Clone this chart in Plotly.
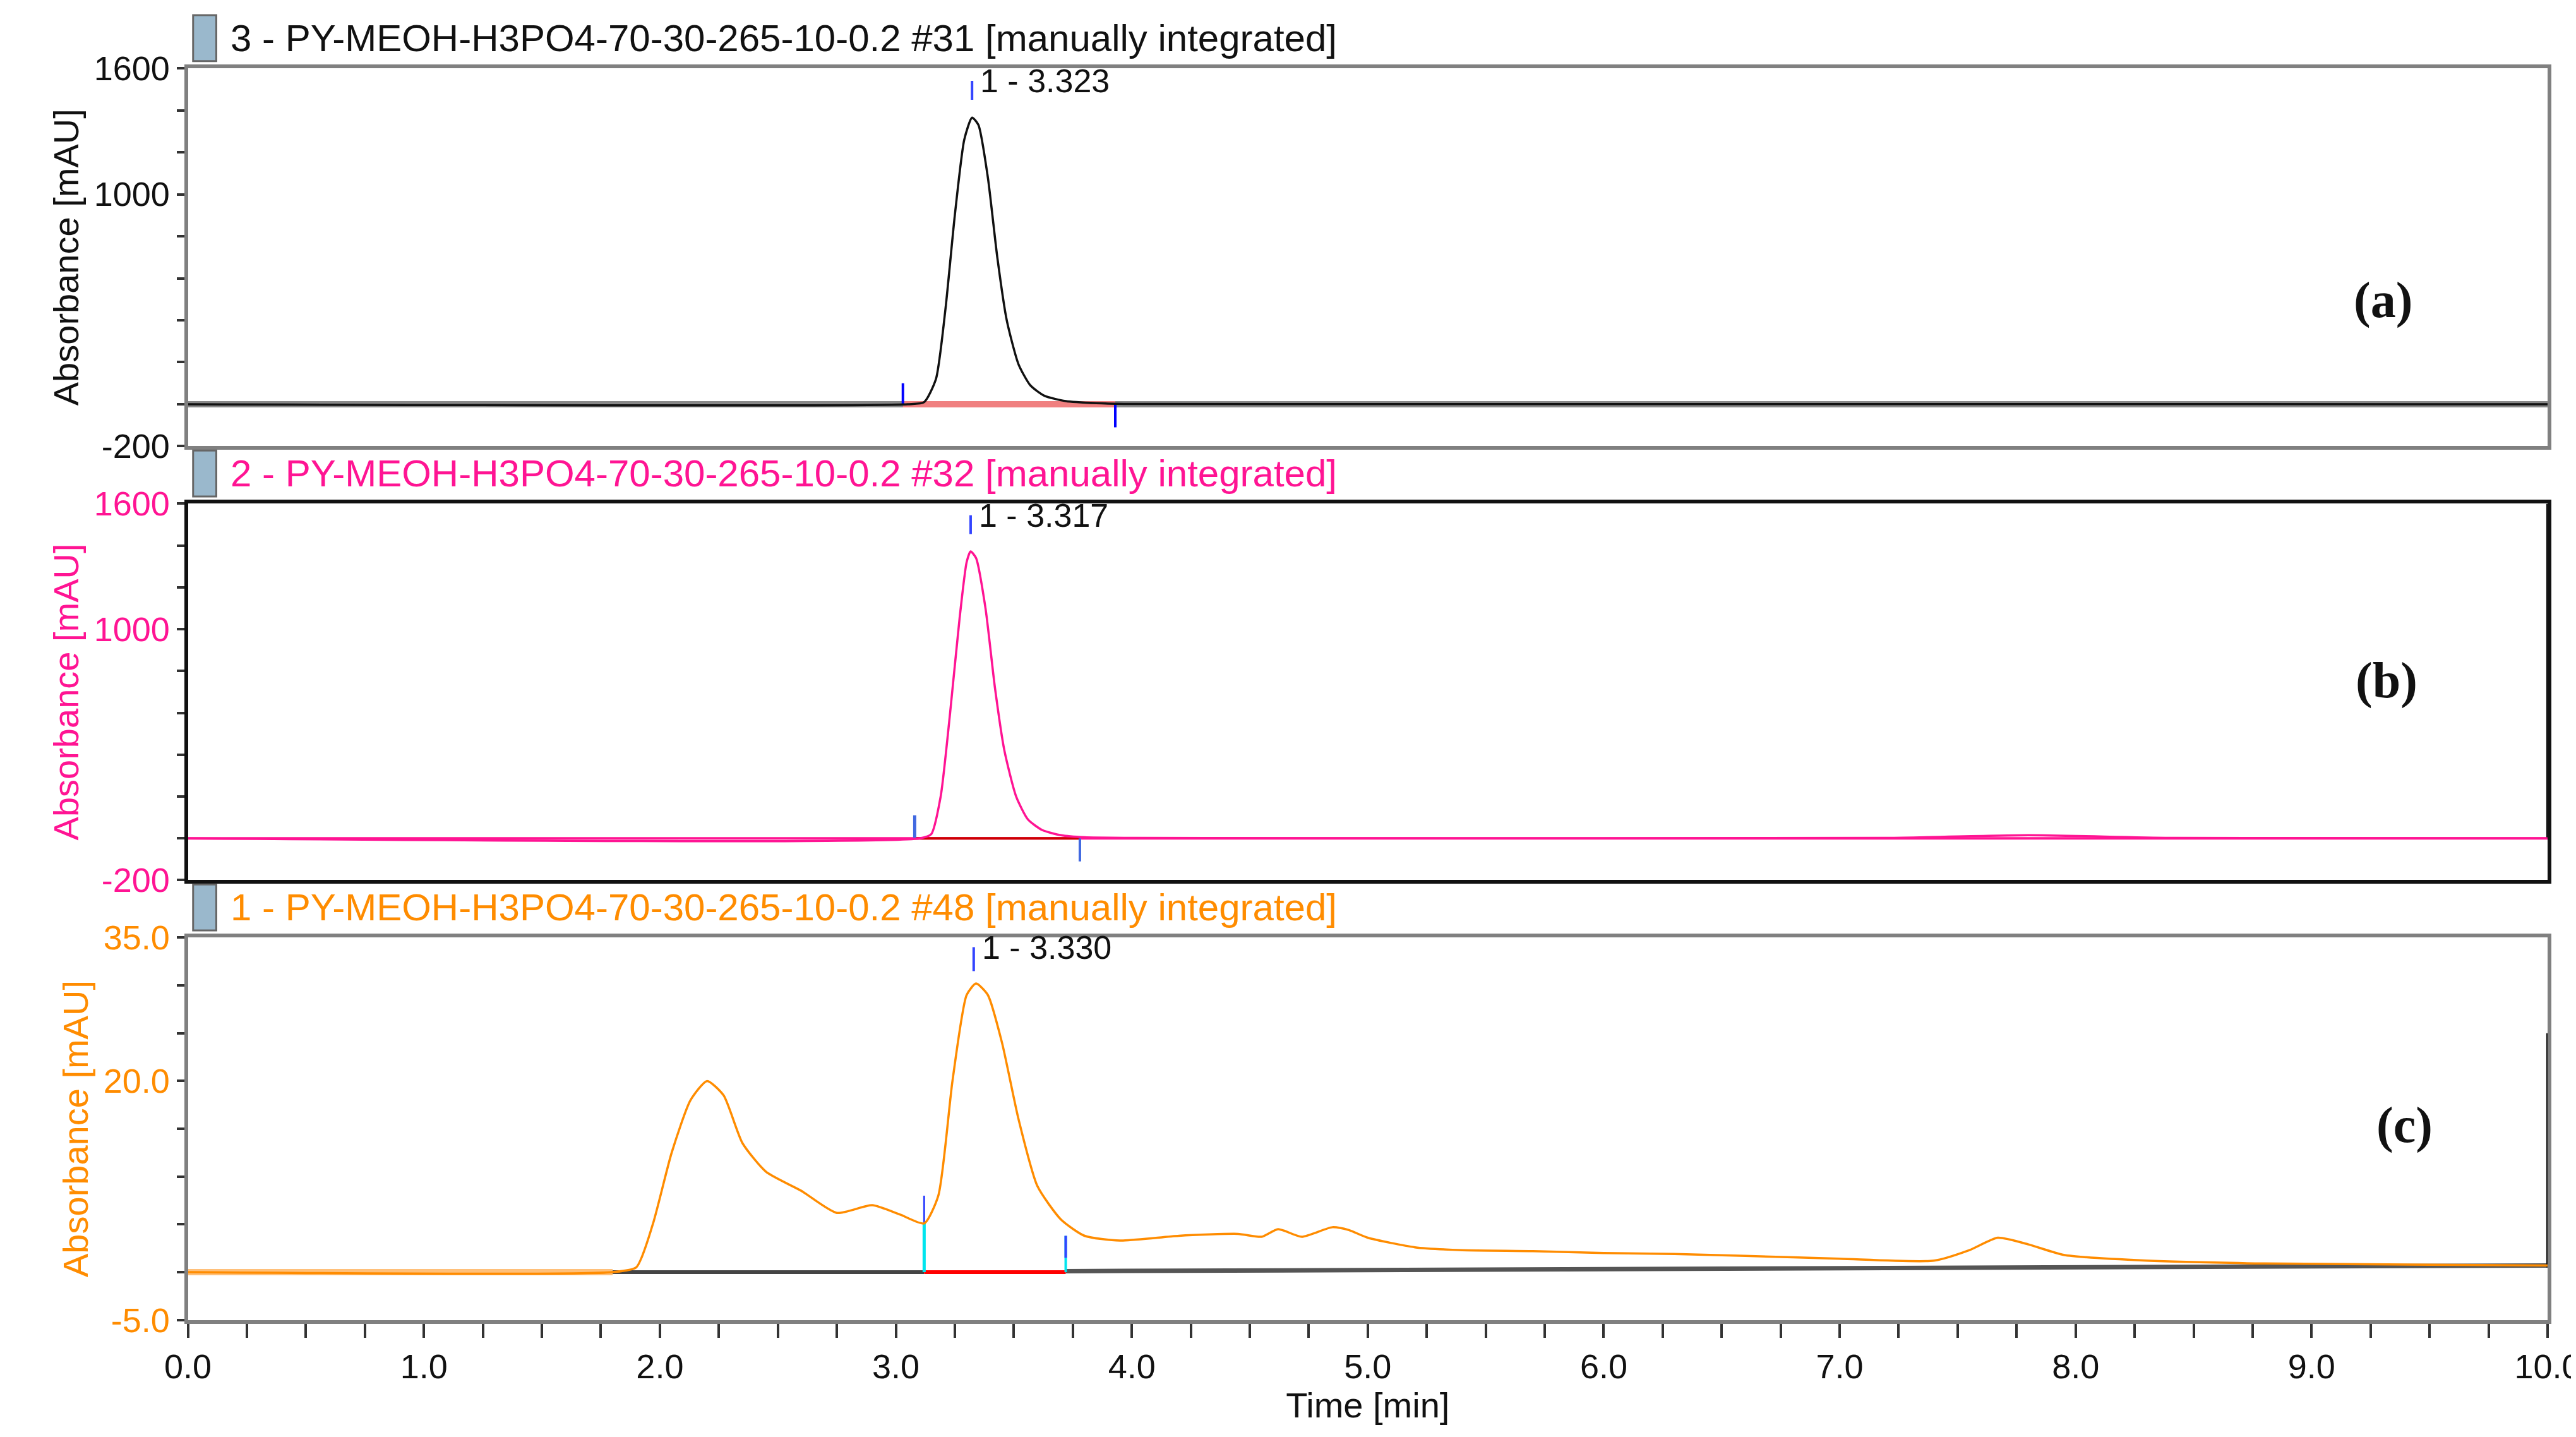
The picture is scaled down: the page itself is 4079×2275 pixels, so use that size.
import plotly.graph_objects as go

# ---- data ----
ta = [0, 3.05, 3.12, 3.17, 3.21, 3.25, 3.29, 3.323, 3.35, 3.39, 3.43, 3.47, 3.52, 3.57, 3.63, 3.72, 3.85, 4.0, 10]
ya = [0, 0, 10, 120, 450, 900, 1260, 1365, 1330, 1080, 700, 400, 190, 90, 40, 15, 5, 1, 0]
tb = [0, 3.1, 3.15, 3.19, 3.23, 3.27, 3.3, 3.317, 3.34, 3.38, 3.42, 3.46, 3.51, 3.56, 3.62, 3.7, 3.8, 4.0, 7.2, 7.8, 8.4, 10]
yb = [0, 0, 20, 200, 600, 1050, 1320, 1372, 1340, 1100, 720, 420, 200, 90, 40, 15, 5, 2, 2, 15, 2, 0]
tc = [0, 1.8, 1.9, 1.97, 2.05, 2.13, 2.2, 2.27, 2.35, 2.45, 2.6, 2.75, 2.9, 3.02, 3.12, 3.18, 3.24, 3.3, 3.34, 3.39, 3.45, 3.52, 3.6, 3.7, 3.8, 3.95, 4.2, 4.45, 4.55, 4.62, 4.72, 4.85, 4.92, 5.0, 5.2, 5.4, 5.7, 6.0, 6.3, 6.6, 7.0, 7.4, 7.55, 7.67, 7.8, 7.95, 8.3, 8.8, 10]
yc = [0, 0, 0.5, 5, 12.5, 18, 20, 18.5, 13.5, 10.5, 8.5, 6.2, 7.0, 6.0, 5.1, 8, 20, 29, 30.2, 29, 24, 16, 9, 5.5, 3.8, 3.3, 3.8, 4.0, 3.7, 4.5, 3.7, 4.7, 4.4, 3.6, 2.6, 2.3, 2.2, 2.0, 1.9, 1.7, 1.4, 1.2, 2.3, 3.6, 2.9, 1.8, 1.2, 0.9, 0.7]

titles = ["3 - PY-MEOH-H3PO4-70-30-265-10-0.2 #31 [manually integrated]",
          "2 - PY-MEOH-H3PO4-70-30-265-10-0.2 #32 [manually integrated]",
          "1 - PY-MEOH-H3PO4-70-30-265-10-0.2 #48 [manually integrated]"]
peak_labels = ["1 - 3.323", "1 - 3.317", "1 - 3.330"]
peak_t = [3.323, 3.317, 3.330]
panel_tags = ["(a)", "(b)", "(c)"]
colors = ["#111111", "#ff1493", "#ff8c00"]
xticklabels = ["0.0", "1.0", "2.0", "3.0", "4.0", "5.0", "6.0", "7.0", "8.0", "9.0", "10.0"]

W, H = 4079, 2275
dom = [(0.693, 0.956), (0.391, 0.653), (0.085, 0.351)]
XD = (0.071, 0.987)
FONT = "Liberation Sans Narrow, Liberation Sans, Arial"

fig = go.Figure()
specs = [(ta, ya, "x", "y"), (tb, yb, "x2", "y2"), (tc, yc, "x3", "y3")]
def seg(x, y, xa, ya_, color, width):
    fig.add_trace(go.Scatter(x=x, y=y, xaxis=xa, yaxis=ya_, mode="lines",
                             line=dict(color=color, width=width), hoverinfo="skip", showlegend=False))

seg([0, 10], [0, 0], "x", "y", "#888888", 10)
seg([3.03, 3.93], [0, 0], "x", "y", "#f08080", 10)
seg([3.03, 3.03], [0, 100], "x", "y", "#0000ff", 4)
seg([3.93, 3.93], [0, -110], "x", "y", "#0000ff", 4)
seg([0, 10], [0, 0], "x2", "y2", "#ff1493", 4)
seg([3.08, 3.78], [0, 0], "x2", "y2", "#cc0000", 4)
seg([3.08, 3.08], [0, 110], "x2", "y2", "#4169e1", 5)
seg([3.78, 3.78], [0, -110], "x2", "y2", "#4169e1", 4)
seg([0, 1.8], [0, 0], "x3", "y3", "#ffc07a", 10)
seg([1.8, 3.12], [0, 0], "x3", "y3", "#444444", 6)
seg([3.12, 3.72], [0, 0], "x3", "y3", "#ff0000", 6)
seg([3.72, 10], [0.1, 0.7], "x3", "y3", "#555555", 7)
seg([3.12, 3.12], [0, 5.1], "x3", "y3", "#00e5ee", 5)
seg([3.12, 3.12], [5.1, 8], "x3", "y3", "#3344ff", 3)
seg([3.72, 3.72], [0, 3.8], "x3", "y3", "#00e5ee", 4)
seg([3.72, 3.72], [1.5, 3.8], "x3", "y3", "#3344ff", 4)
seg([10, 10], [0, 1600], "x2", "y2", "#111111", 4)
seg([10, 10], [0.5, 25], "x3", "y3", "#111111", 4)

for i, (t, y, xa, ya_) in enumerate(specs):
    fig.add_trace(go.Scatter(x=t, y=y, xaxis=xa, yaxis=ya_, mode="lines",
                             line=dict(color=colors[i], width=3.5, shape="spline", smoothing=0.6),
                             showlegend=False))

peak_y = [(1450, 1540), (1455, 1545), (31.5, 34)]
for i in range(3):
    xa = ["x", "x2", "x3"][i]; yax = ["y", "y2", "y3"][i]
    seg([peak_t[i], peak_t[i]], list(peak_y[i]), xa, yax, "#3344ff", 4)

ranges = [(-200, 1600), (-200, 1600), (-5, 35)]
tickvals = [list(range(-200, 1601, 200)), list(range(-200, 1601, 200)), list(range(-5, 36, 5))]
shown = [{1600: "1600", 1000: "1000", -200: "-200"}, {1600: "1600", 1000: "1000", -200: "-200"},
         {35: "35.0", 20: "20.0", -5: "-5.0"}]
framecol = ["#808080", "#111111", "#808080"]

layout = dict(width=W, height=H, paper_bgcolor="white", plot_bgcolor="white",
              margin=dict(l=0, r=0, t=0, b=0), font=dict(family=FONT, color="#111111"))
for i in range(3):
    sfx = "" if i == 0 else str(i + 1)
    layout["xaxis" + sfx] = dict(domain=list(XD), range=[0, 10], anchor="y" + sfx, automargin=False,
                                 showgrid=False, zeroline=False, showline=True, mirror=True,
                                 linecolor=framecol[i], linewidth=6,
                                 tickvals=[k * 0.25 for k in range(41)] if i == 2 else [],
                                 ticktext=[(xticklabels[k // 4] if k % 4 == 0 else "") for k in range(41)] if i == 2 else [],
                                 ticks="outside" if i == 2 else "", ticklen=22, tickwidth=4, tickcolor="#333",
                                 tickfont=dict(size=54, family=FONT, color="#111"))
    layout["yaxis" + sfx] = dict(domain=list(dom[i]), range=list(ranges[i]), anchor="x" + sfx, automargin=False,
                                 showgrid=False, zeroline=False, showline=True, mirror=True,
                                 linecolor=framecol[i], linewidth=6,
                                 tickvals=tickvals[i], ticktext=[shown[i].get(v, "") for v in tickvals[i]],
                                 ticks="outside", ticklen=12, tickwidth=4, tickcolor="#333",
                                 tickfont=dict(size=54, family=FONT, color=colors[i] if i else "#111"),
                                 title=dict(text="Absorbance [mAU]", standoff=8,
                                            font=dict(size=56, family="Liberation Sans", color=colors[i] if i else "#111")))
layout["xaxis3"]["title"] = dict(text="Time [min]", standoff=6, font=dict(size=56, family=FONT, color="#111"))
fig.update_layout(**layout)

ann = []
title_y = [0.977, 0.674, 0.372]
tag_y = [0.815, 0.53, 0.2]
tag_x = [0.935, 0.937, 0.943]
for i in range(3):
    sfx = "" if i == 0 else str(i + 1)
    ann.append(dict(text=titles[i], xref="paper", yref="paper", x=0.087, y=title_y[i], xanchor="left", yanchor="middle",
                    showarrow=False, font=dict(size=60, family=FONT, color=colors[i] if i else "#111")))
    ann.append(dict(text=peak_labels[i], xref="x" + sfx, yref="y" + sfx, x=peak_t[i] + 0.03,
                    y=peak_y[i][1], xanchor="left", yanchor="middle", showarrow=False,
                    font=dict(size=52, family=FONT, color="#111")))
    ann.append(dict(text="<b>" + panel_tags[i] + "</b>", xref="paper", yref="paper", x=tag_x[i], y=tag_y[i],
                    showarrow=False, font=dict(size=80, family="Liberation Serif", color="#111")))
    fig.add_shape(type="rect", xref="paper", yref="paper", x0=0.073, x1=0.082,
                  y0=title_y[i] - 0.016, y1=title_y[i] + 0.016,
                  fillcolor="#9ab8cc", line=dict(color="#666", width=3))
fig.update_layout(annotations=ann)
fig.write_html("out.html")
